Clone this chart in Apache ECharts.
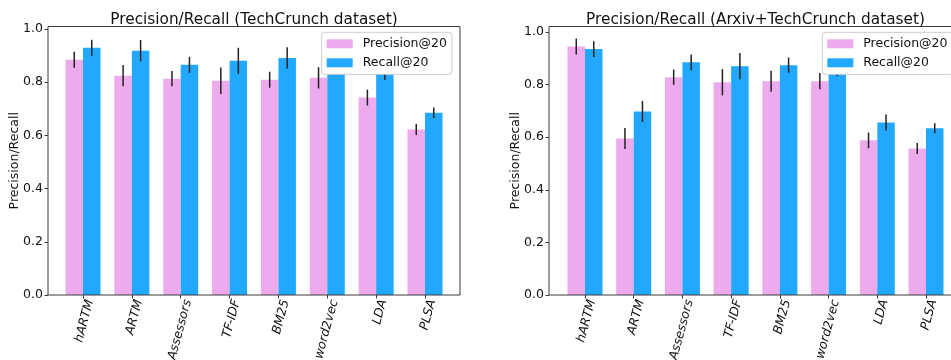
<!DOCTYPE html>
<html>
<head>
<meta charset="utf-8">
<script src="https://cdn.jsdelivr.net/npm/echarts@6/dist/echarts.min.js"></script>
<style>html,body{margin:0;padding:0;background:#fff}#c{width:951px;height:360px}</style>
</head>
<body>
<div id="c"></div>
<script>
// ---- data ----
const categories = ['hARTM','ARTM','Assessors','TF-IDF','BM25','word2vec','LDA','PLSA'];
const yTicks = [0, 0.2, 0.4, 0.6, 0.8, 1.0];
const seriesNames = ['Precision@20', 'Recall@20'];
const titles = ['Precision/Recall (TechCrunch dataset)', 'Precision/Recall (Arxiv+TechCrunch dataset)'];
const yAxisName = 'Precision/Recall';

const tcPrecision    = [0.884, 0.824, 0.813, 0.805, 0.809, 0.816, 0.742, 0.622];
const tcPrecisionErr = [0.030, 0.040, 0.029, 0.050, 0.030, 0.040, 0.030, 0.021];
const tcRecall       = [0.929, 0.918, 0.865, 0.880, 0.891, 0.870, 0.835, 0.685];
const tcRecallErr    = [0.030, 0.040, 0.030, 0.049, 0.040, 0.030, 0.027, 0.020];

const axPrecision    = [0.945, 0.595, 0.828, 0.809, 0.813, 0.813, 0.588, 0.557];
const axPrecisionErr = [0.030, 0.040, 0.029, 0.050, 0.040, 0.031, 0.030, 0.021];
const axRecall       = [0.935, 0.698, 0.885, 0.870, 0.874, 0.862, 0.656, 0.634];
const axRecallErr    = [0.030, 0.040, 0.030, 0.050, 0.029, 0.030, 0.030, 0.019];

const yMaxTC = 1.009;
const yMaxAX = 1.021;

// ---- style / layout ----
const FONT = 'DejaVu Sans';
const PINK = '#EDABEE';
const BLUE = '#22A9FF';
const AXIS = '#3a3a3a';
const TXT = '#111';
const BARW = 17.5;
const TOP = 26.5, HEIGHT = 268.5;
const panels = [
  { frameLeft: 48,  frameWidth: 412, dataLeft: 58.57,  dataWidth: 390.86, legendLeft: 321.7, yMax: yMaxTC },
  { frameLeft: 549, frameWidth: 413, dataLeft: 560.64, dataWidth: 389.72, legendLeft: 822.3, yMax: yMaxAX }
];

const grids = [], xAxes = [], yAxes = [], legends = [], titleOpts = [], series = [];

function errRender(offset) {
  return function (params, api) {
    const c = api.value(0);
    const lo = api.coord([c, api.value(1)]);
    const hi = api.coord([c, api.value(2)]);
    return {
      type: 'line',
      shape: { x1: lo[0] + offset, y1: lo[1], x2: hi[0] + offset, y2: hi[1] },
      style: { stroke: '#222', lineWidth: 1.5 }
    };
  };
}

const panelData = [
  [tcPrecision, tcPrecisionErr, tcRecall, tcRecallErr],
  [axPrecision, axPrecisionErr, axRecall, axRecallErr]
];

panels.forEach((p, k) => {
  grids.push({ left: p.frameLeft, top: TOP, width: p.frameWidth, height: HEIGHT, show: true,
    borderColor: AXIS, borderWidth: 1, backgroundColor: 'transparent', z: 5, outerBoundsMode: 'none' });
  grids.push({ left: p.dataLeft, top: TOP, width: p.dataWidth, height: HEIGHT, outerBoundsMode: 'none' });
  xAxes.push({
    type: 'category', gridIndex: 2 * k + 1, data: categories,
    axisLine: { show: false },
    axisTick: { show: true, alignWithLabel: true, length: 3.5, lineStyle: { color: AXIS } },
    axisLabel: { rotate: 75, fontStyle: 'italic', fontSize: 12.5, lineHeight: 15, margin: 3, color: TXT,
      fontFamily: FONT, interval: 0, verticalAlign: 'top', align: 'right' },
    splitLine: { show: false }
  });
  yAxes.push({
    type: 'value', gridIndex: 2 * k + 1, min: 0, max: p.yMax,
    offset: p.dataLeft - p.frameLeft,
    axisLine: { show: false },
    axisTick: { show: true, length: 3.5, customValues: yTicks, lineStyle: { color: AXIS } },
    axisLabel: { customValues: yTicks, formatter: v => v.toFixed(1), fontSize: 12.5, margin: 5, color: TXT,
      fontFamily: FONT },
    splitLine: { show: false },
    name: yAxisName, nameLocation: 'middle', nameGap: 27, nameMoveOverlap: false,
    nameTextStyle: { fontSize: 12.5, color: TXT, fontFamily: FONT }
  });
  legends.push({
    data: seriesNames, orient: 'vertical', left: p.legendLeft, top: 32.3,
    icon: 'rect', itemWidth: 26, itemHeight: 9, itemGap: 4, padding: [4, 5, 4, 5],
    backgroundColor: '#fff', borderColor: '#ccc', borderWidth: 1, borderRadius: 3,
    textStyle: { fontSize: 12.5, lineHeight: 15, padding: [0, 0, 0, 5], color: TXT, fontFamily: FONT },
    z: 10, selectedMode: false
  });
  titleOpts.push({
    text: titles[k], left: p.frameLeft + p.frameWidth / 2, top: 12.5, textAlign: 'center', padding: 0,
    textStyle: { fontSize: 15.3, fontWeight: 'normal', color: TXT, fontFamily: FONT }
  });
  const [pv, pe, rv, re] = panelData[k];
  series.push({ type: 'bar', name: seriesNames[0], xAxisIndex: k, yAxisIndex: k, data: pv,
    barWidth: BARW, barGap: '0%', itemStyle: { color: PINK } });
  series.push({ type: 'bar', name: seriesNames[1], xAxisIndex: k, yAxisIndex: k, data: rv,
    barWidth: BARW, barGap: '0%', itemStyle: { color: BLUE } });
  series.push({ type: 'custom', name: 'errP' + k, xAxisIndex: k, yAxisIndex: k,
    renderItem: errRender(-BARW / 2), encode: { x: 0, y: [1, 2] }, z: 3,
    data: categories.map((c, i) => [i, pv[i] - pe[i], pv[i] + pe[i]]) });
  series.push({ type: 'custom', name: 'errR' + k, xAxisIndex: k, yAxisIndex: k,
    renderItem: errRender(BARW / 2), encode: { x: 0, y: [1, 2] }, z: 3,
    data: categories.map((c, i) => [i, rv[i] - re[i], rv[i] + re[i]]) });
});

const chart = echarts.init(document.getElementById('c'));
chart.setOption({
  animation: false,
  textStyle: { fontFamily: FONT },
  title: titleOpts,
  legend: legends,
  grid: grids,
  xAxis: xAxes,
  yAxis: yAxes,
  tooltip: { show: false },
  series: series
});
</script>
</body>
</html>
